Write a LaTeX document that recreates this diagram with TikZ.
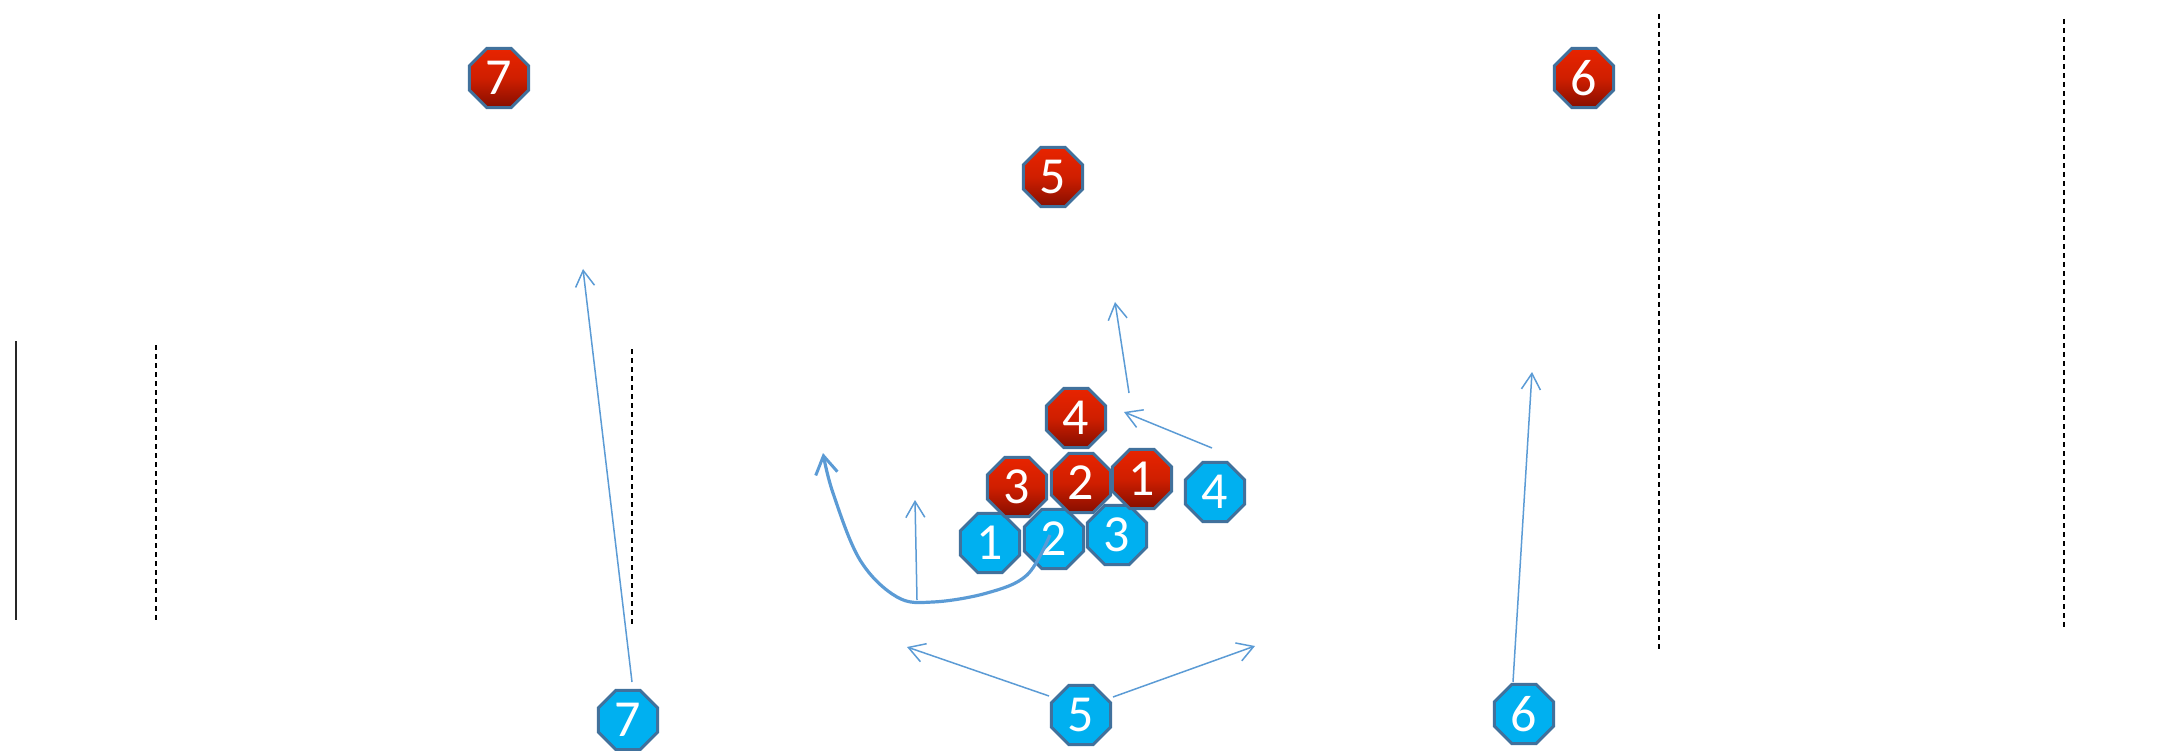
\documentclass[tikz,border=0pt]{standalone}
\usepackage{fontspec}
\setmainfont{Carlito}
\usetikzlibrary{shapes.geometric,arrows.meta}
\definecolor{octborder}{RGB}{65,113,156}
\definecolor{redtop}{RGB}{232,36,0}
\definecolor{redbot}{RGB}{134,14,0}
\definecolor{bluefill}{RGB}{0,176,240}
\definecolor{arrowblue}{RGB}{91,155,213}
\tikzset{
  oct/.style={regular polygon, regular polygon sides=8, minimum size=64pt, inner sep=0pt,
    draw=octborder, line width=3pt, text=white, font=\fontsize{52}{52}\selectfont},
  def/.style={oct, top color=redtop, bottom color=redbot, middle color=redtop!75!redbot},
  off/.style={oct, fill=bluefill},
  route/.style={draw=arrowblue, line width=1.5pt, -{Straight Barb[length=16pt,width=19pt,line width=1.5pt]}},
  thickroute/.style={draw=arrowblue, line width=3.2pt, -{Straight Barb[length=18pt,width=22pt,line width=3pt]}},
  yardline/.style={black, line width=1.3pt, dash pattern=on 5pt off 4pt},
}
\begin{document}
\begin{tikzpicture}[x=1pt,y=-1pt]
\useasboundingbox (0,0) rectangle (2182,751);
% field lines
\coordinate (s1) at (16,341); \coordinate (s2) at (16,620);
\draw[black!85, line width=2pt] (s1) -- (s2);
\coordinate (d1a) at (156,345); \coordinate (d1b) at (156,620);
\draw[yardline] (d1a) -- (d1b);
\coordinate (d2a) at (632,349); \coordinate (d2b) at (632,625);
\draw[yardline] (d2a) -- (d2b);
\coordinate (d3a) at (1659,14); \coordinate (d3b) at (1659,651);
\draw[yardline] (d3a) -- (d3b);
\coordinate (d4a) at (2064,19); \coordinate (d4b) at (2064,628);
\draw[yardline] (d4a) -- (d4b);
% offense (blue)
\node[off] (b1) at (990,543) {1};
\node[off] (b2) at (1054,539) {2};
\node[off] (b3) at (1117,535) {3};
\node[off] (b4) at (1215,492) {4};
\node[off] (b5) at (1081,715) {5};
\node[off] (b6) at (1524,714) {6};
\node[off] (b7) at (628,720) {7};
% defense (red)
\node[def] (r7) at (499,78) {7};
\node[def] (r6) at (1584,78) {6};
\node[def] (r5) at (1053,177) {5};
\node[def] (r4) at (1076,418) {4};
\node[def] (r3) at (1017,487) {3};
\node[def] (r2) at (1081,483) {2};
\node[def] (r1) at (1142,479) {1};
% route end points
\coordinate (t7s) at (632,682); \coordinate (t7e) at (583,269);
\coordinate (t5ls) at (1049,696); \coordinate (t5le) at (907,647);
\coordinate (t5rs) at (1113,697); \coordinate (t5re) at (1255,646);
\coordinate (t6s) at (1513,682); \coordinate (t6e) at (1532,372);
\coordinate (t4s) at (1212,448); \coordinate (t4e) at (1124,412);
\coordinate (tcs) at (1129,393); \coordinate (tce) at (1115,302);
\coordinate (t1s) at (917,600); \coordinate (t1e) at (915,500);
\coordinate (t2e) at (823,453);
% routes
\draw[route] (t7s) -- (t7e);
\draw[route] (t5ls) -- (t5le);
\draw[route] (t5rs) -- (t5re);
\draw[route] (t6s) -- (t6e);
\draw[route] (t4s) -- (t4e);
\draw[route] (tcs) -- (tce);
\draw[route] (t1s) -- (t1e);
\draw[thickroute] plot[smooth, tension=0.6] coordinates {(1050,535) (1027,575) (987,593) (933,602) (897,597) (860,560) (833,493) (t2e)};
\end{tikzpicture}
\end{document}
